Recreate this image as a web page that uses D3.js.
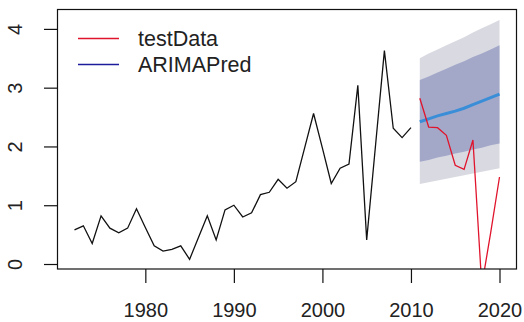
<!DOCTYPE html>
<html>
<head>
<meta charset="utf-8">
<script src="https://cdn.jsdelivr.net/npm/d3@7"></script>
<style>
  body { margin: 0; background: #fff; }
  text { font-family: "Liberation Sans", Arial, sans-serif; fill: #222; }
</style>
</head>
<body>
<svg class="chart"></svg>
<script>
// observed series 1972-2010
var histYears = d3.range(1972, 2011);
var histValues = [0.58, 0.65, 0.35, 0.82, 0.61, 0.53, 0.61, 0.94, 0.62, 0.31,
                  0.22, 0.25, 0.31, 0.08, 0.45, 0.82, 0.41, 0.92, 1.00, 0.80,
                  0.87, 1.18, 1.22, 1.44, 1.29, 1.40, 1.98, 2.56, 1.97, 1.37,
                  1.63, 1.70, 3.04, 0.41, 2.02, 3.63, 2.31, 2.15, 2.32];

// test period 2011-2020
var testYears = d3.range(2011, 2021);
var testData = [2.82, 2.33, 2.32, 2.19, 1.68, 1.61, 2.11, -0.37, 0.53, 1.48];
var arimaPred = [2.42, 2.47, 2.52, 2.56, 2.60, 2.65, 2.71, 2.77, 2.83, 2.89];
var hi95 = [3.50, 3.58, 3.65, 3.72, 3.79, 3.86, 3.94, 4.01, 4.08, 4.15];
var lo95 = [1.36, 1.39, 1.42, 1.45, 1.48, 1.51, 1.54, 1.57, 1.60, 1.63];
var hi80 = [3.13, 3.19, 3.26, 3.32, 3.39, 3.45, 3.52, 3.58, 3.65, 3.72];
var lo80 = [1.74, 1.77, 1.81, 1.84, 1.88, 1.91, 1.95, 1.98, 2.02, 2.05];

var xTicks = [1980, 1990, 2000, 2010, 2020];
var yTicks = [0, 1, 2, 3, 4];
var legendKeys = ["testData", "ARIMAPred"];
var legendColors = ["#e0142c", "#1c1c9c"];

var width = 524,
    height = 322;

var svg = d3.select(".chart").attr("width", width).attr("height", height),
    box = {left: 57.5, right: 516.5, top: 9.5, bottom: 269};

var x = d3.scaleLinear()
    .domain([1970.08, 2021.92])
    .range([box.left, box.right]);

var y = d3.scaleLinear()
    .domain([-0.085, 4.33])
    .range([box.bottom, box.top]);

svg.append("defs").append("clipPath")
    .attr("id", "plotclip")
  .append("rect")
    .attr("x", box.left)
    .attr("y", box.top)
    .attr("width", box.right - box.left)
    .attr("height", box.bottom - box.top);

var plot = svg.append("g").attr("clip-path", "url(#plotclip)");

var fc = testYears.map(function(yr, i) {
  return {year: yr, pred: arimaPred[i], hi95: hi95[i], lo95: lo95[i], hi80: hi80[i], lo80: lo80[i], test: testData[i]};
});

// prediction intervals
plot.append("path")
    .datum(fc)
    .attr("fill", "#d9d9e1")
    .attr("d", d3.area()
        .x(function(d) { return x(d.year); })
        .y0(function(d) { return y(d.lo95); })
        .y1(function(d) { return y(d.hi95); }));

plot.append("path")
    .datum(fc)
    .attr("fill", "#a3a8c9")
    .attr("d", d3.area()
        .x(function(d) { return x(d.year); })
        .y0(function(d) { return y(d.lo80); })
        .y1(function(d) { return y(d.hi80); }));

// observed
var hist = histYears.map(function(yr, i) { return {year: yr, v: histValues[i]}; });
plot.append("path")
    .datum(hist)
    .attr("fill", "none")
    .attr("stroke", "#111")
    .attr("stroke-width", 1.3)
    .attr("stroke-linejoin", "miter")
    .attr("d", d3.line()
        .x(function(d) { return x(d.year); })
        .y(function(d) { return y(d.v); }));

plot.append("path")
    .datum(fc)
    .attr("fill", "none")
    .attr("stroke", "#3a8ed8")
    .attr("stroke-width", 3)
    .attr("d", d3.line()
        .x(function(d) { return x(d.year); })
        .y(function(d) { return y(d.pred); }));

plot.append("path")
    .datum(fc)
    .attr("fill", "none")
    .attr("stroke", legendColors[0])
    .attr("stroke-width", 1.3)
    .attr("d", d3.line()
        .x(function(d) { return x(d.year); })
        .y(function(d) { return y(d.test); }));

// frame
svg.append("rect")
    .attr("x", box.left)
    .attr("y", box.top)
    .attr("width", box.right - box.left)
    .attr("height", box.bottom - box.top)
    .attr("fill", "none")
    .attr("stroke", "#111")
    .attr("stroke-width", 1.2);

// x axis
var xAxis = svg.append("g")
    .attr("transform", "translate(0," + box.bottom + ")")
    .call(d3.axisBottom(x).tickValues(xTicks).tickFormat(d3.format("d")).tickSize(14).tickPadding(0));
xAxis.select(".domain").remove();
xAxis.selectAll(".tick line").attr("stroke", "#111").attr("stroke-width", 1.2);
xAxis.selectAll(".tick text")
    .attr("y", 47.5)
    .attr("dy", null)
    .attr("font-size", 20)
    .attr("font-family", "Liberation Sans, Arial, sans-serif")
    .attr("fill", "#222");

// y axis
var yAxis = svg.append("g")
    .attr("transform", "translate(" + box.left + ",0)")
    .call(d3.axisLeft(y).tickValues(yTicks).tickFormat(d3.format("d")).tickSize(13.5));
yAxis.select(".domain").remove();
yAxis.selectAll(".tick line").attr("stroke", "#111").attr("stroke-width", 1.2);
yAxis.selectAll(".tick text")
    .attr("x", null)
    .attr("dy", null)
    .attr("text-anchor", "middle")
    .attr("transform", "translate(-35.5,0) rotate(-90)")
    .attr("font-size", 20)
    .attr("font-family", "Liberation Sans, Arial, sans-serif")
    .attr("fill", "#222");

// legend
var legend = svg.append("g")
  .selectAll("g")
  .data(legendKeys)
  .enter().append("g")
    .attr("transform", function(d, i) { return "translate(0," + (38.5 + i * 26) + ")"; });

legend.append("line")
    .attr("x1", 78)
    .attr("x2", 119)
    .attr("stroke", function(d, i) { return legendColors[i]; })
    .attr("stroke-width", 1.3);

legend.append("text")
    .attr("x", 138)
    .attr("y", 7.5)
    .attr("font-size", 21.5)
    .text(function(d) { return d; });
</script>
</body>
</html>
